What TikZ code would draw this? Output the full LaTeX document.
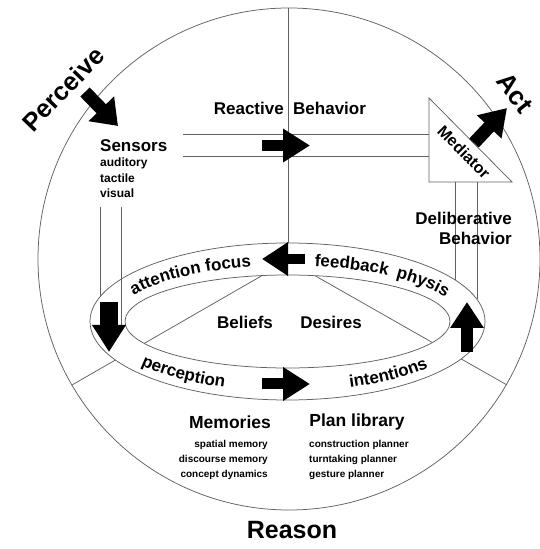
\documentclass[tikz,border=0pt]{standalone}
\usepackage{fontspec}
\setmainfont{Liberation Sans}
\usetikzlibrary{arrows.meta,decorations.text}
\newcommand\fsz[1]{\bfseries\fontsize{#1}{#1}\selectfont}
\newcommand\ringfont{\bfseries\fontsize{17}{17}\selectfont}
\begin{document}
\begin{tikzpicture}[x=1pt,y=1pt,
  ln/.style={draw=black!62, line width=0.75pt},
  barrow/.style n args={3}{draw=black, line width=#1, -{Triangle[length=#2,width=#3]}},
  lbl/.style={inner sep=0pt, font=\fsz{17}},
  small/.style={inner sep=0pt, font=\fsz{10}},
  big/.style={inner sep=0pt, font=\fsz{25}},
  ringtext/.style={decorate, decoration={text along path, text={|\ringfont|#1}, text align=center}}
]
\fill[white] (0,0) rectangle (539,549);
\useasboundingbox (0,0) rectangle (539,549);

% named points
\coordinate (C) at (289,290);
\coordinate (E) at (287.5,227.5);
\coordinate (vt) at (288,541);
\coordinate (vb) at (288,306);
\coordinate (dl1) at (262,273.4);
\coordinate (dl2) at (72,164);
\coordinate (dr1) at (315,273.3);
\coordinate (dr2) at (507,164);
\coordinate (sl1) at (100,342);
\coordinate (sl2) at (100,252);
\coordinate (sr1) at (121,342);
\coordinate (sr2) at (121,224);
\coordinate (ra1) at (183,414.5);
\coordinate (ra2) at (429,414.5);
\coordinate (rb1) at (183,392.3);
\coordinate (rb2) at (429,392.3);
\coordinate (tA) at (429,451);
\coordinate (tB) at (429,367);
\coordinate (tC) at (512,367);
\coordinate (da1) at (455,367);
\coordinate (da2) at (455,269);
\coordinate (db1) at (477,367);
\coordinate (db2) at (477,250);

% outer circle
\draw[ln] (C) circle[radius=251pt];

% lines
\draw[ln] (vt) -- (vb);
\draw[ln] (dl1) -- (dl2);
\draw[ln] (dr1) -- (dr2);
\draw[ln] (sl1) -- (sl2);
\draw[ln] (ra1) -- (ra2);
\draw[ln] (rb1) -- (rb2);
\draw[ln] (da1) -- (da2);
\draw[ln] (db1) -- (db2);

% mediator triangle
\draw[ln, fill=white] (tA) -- (tB) -- (tC) -- cycle;

% ring
\fill[white, even odd rule] (E) ellipse[x radius=197.5pt, y radius=78.5pt]
                            (E) ellipse[x radius=162.5pt, y radius=46.5pt];
\draw[ln] (E) ellipse[x radius=197.5pt, y radius=78.5pt];
\draw[ln] (E) ellipse[x radius=162.5pt, y radius=46.5pt];
\draw[ln] (sr1) -- (sr2);

% block arrows
\coordinate (pa1) at (85,457);   \coordinate (pa2) at (118,423);
\coordinate (ra3) at (262,403.5); \coordinate (ra4) at (310,403.5);
\coordinate (aa1) at (474,406);  \coordinate (aa2) at (507,441);
\coordinate (fa1) at (305,290);  \coordinate (fa2) at (262,290);
\coordinate (la1) at (109,247);  \coordinate (la2) at (109,197);
\coordinate (ua1) at (467,197);  \coordinate (ua2) at (467,247);
\coordinate (ca1) at (262,165);  \coordinate (ca2) at (310,165);
\draw[barrow={13pt}{24pt}{34pt}] (pa1) -- (pa2);
\draw[barrow={11pt}{27pt}{32pt}] (ra3) -- (ra4);
\draw[barrow={13pt}{26pt}{32pt}] (aa1) -- (aa2);
\draw[barrow={10pt}{26pt}{32pt}] (fa1) -- (fa2);
\draw[barrow={18pt}{27pt}{32pt}] (la1) -- (la2);
\draw[barrow={12pt}{26pt}{32pt}] (ua1) -- (ua2);
\draw[barrow={11pt}{27pt}{32pt}] (ca1) -- (ca2);

% ring texts
\path[ringtext={attention focus}] (E) ++(154:174pt and 56pt) arc[start angle=154, end angle=101, x radius=174pt, y radius=56pt];
\path[ringtext={feedback}] (E) ++(81:174pt and 56pt) arc[start angle=81, end angle=55, x radius=174pt, y radius=56pt];
\path[ringtext={physis}] (E) ++(52:174pt and 56pt) arc[start angle=52, end angle=24, x radius=174pt, y radius=56pt];
\path[ringtext={perception}] (E) ++(216:187pt and 70pt) arc[start angle=216, end angle=252, x radius=187pt, y radius=70pt];
\path[ringtext={intentions}] (E) ++(288:187pt and 70pt) arc[start angle=288, end angle=321, x radius=187pt, y radius=70pt];

% labels
\node[big, font=\fsz{25.5}, rotate=46] (perceive) at (63,460) {Perceive};
\node[big, font=\fsz{26}, rotate=-52] (act) at (515,456) {Act};
\node[big] (reason) at (292,19) {Reason};
\node[lbl, anchor=west] (sensors) at (100,403) {Sensors};
\node[inner sep=0pt, font=\fsz{12}, anchor=west] (aud) at (100,386) {auditory};
\node[inner sep=0pt, font=\fsz{12}, anchor=west] (tac) at (100,371) {tactile};
\node[inner sep=0pt, font=\fsz{12}, anchor=west] (vis) at (100,356) {visual};
\node[lbl, anchor=east] (reactive) at (284,441) {Reactive};
\node[lbl, anchor=west] (rbeh) at (293,441) {Behavior};
\node[lbl, font=\fsz{16}, rotate=-45] (mediator) at (464,397) {Mediator};
\node[lbl, anchor=east, align=right] (delib) at (512,321) {Deliberative\\[3pt]Behavior};
\node[lbl] (beliefs) at (245,227) {Beliefs};
\node[lbl] (desires) at (331,227) {Desires};
\node[lbl, font=\fsz{17.5}] (memories) at (230,127) {Memories};
\node[lbl, font=\fsz{17.5}] (planlib) at (357,127) {Plan library};
\node[small, anchor=east] (m1) at (268,104) {spatial memory};
\node[small, anchor=east] (m2) at (268,89) {discourse memory};
\node[small, anchor=east] (m3) at (268,74) {concept dynamics};
\node[small, anchor=west] (p1) at (309,104) {construction planner};
\node[small, anchor=west] (p2) at (309,89) {turntaking planner};
\node[small, anchor=west] (p3) at (309,74) {gesture planner};
\end{tikzpicture}
\end{document}
